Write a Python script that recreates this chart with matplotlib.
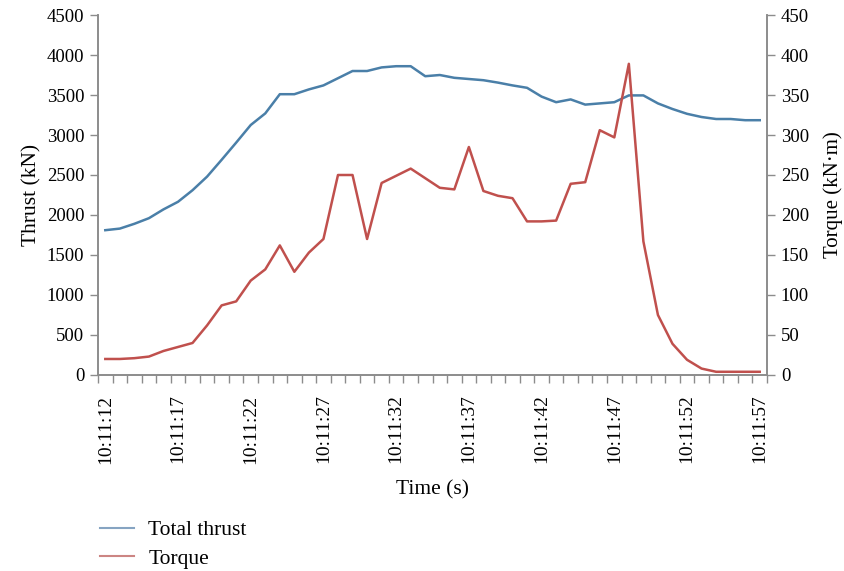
import matplotlib.pyplot as plt
from matplotlib.ticker import FixedLocator
from matplotlib.lines import Line2D

# One sample per second, 10:11:12 -> 10:11:57
times = ['10:11:%02d' % s for s in range(12, 58)]

thrust = [1810, 1830, 1890, 1960, 2070, 2165, 2310, 2480, 2690, 2905,
          3125, 3270, 3510, 3510, 3570, 3620, 3710, 3800, 3800, 3845,
          3860, 3860, 3735, 3750, 3715, 3700, 3685, 3655, 3620, 3590,
          3480, 3410, 3445, 3380, 3395, 3410, 3495, 3495, 3395, 3325,
          3265, 3225, 3200, 3200, 3185, 3185]

torque = [20, 20, 21, 23, 30, 35, 40, 62, 87, 92,
          118, 132, 162, 129, 153, 170, 250, 250, 170, 240,
          249, 258, 246, 234, 232, 285, 230, 224, 221, 192,
          192, 193, 239, 241, 306, 297, 389, 167, 75, 39,
          19, 8, 4, 4, 4, 4]

BLUE = '#4a7fa8'
RED = '#c0504d'
GREY = '#8c8c8c'
SERIF = 'Liberation Serif'

fig = plt.figure(figsize=(8.45, 5.71), dpi=100)
ax = fig.add_axes([0.116, 0.3433, 0.7917, 0.6304])
ax2 = ax.twinx()

x = list(range(len(times)))
ax.plot(x, thrust, color=BLUE, lw=1.8, zorder=3)
ax2.plot(x, torque, color=RED, lw=1.8, zorder=3)

ax.set_xlim(-0.5, len(times) - 0.5)
ax.set_ylim(0, 4500)
ax2.set_ylim(0, 450)
ax.set_yticks(range(0, 4501, 500))
ax2.set_yticks(range(0, 451, 50))

# labels every 5 s, tick marks between every category
ax.xaxis.set_major_locator(FixedLocator(x[::5]))
ax.set_xticklabels(times[::5], rotation=90, family=SERIF, fontsize=14)
ax.xaxis.set_minor_locator(FixedLocator([i - 0.5 for i in range(len(times) + 1)]))
ax.tick_params(axis='x', which='major', length=0, pad=14)
ax.tick_params(axis='x', which='minor', length=6, width=1, color=GREY, direction='out')

ax.tick_params(axis='y', length=6, width=1, color=GREY, pad=4, labelsize=13.5)
ax2.tick_params(axis='y', length=6, width=1, color=GREY, pad=4, labelsize=13.5)
for lab in ax.get_yticklabels() + ax2.get_yticklabels():
    lab.set_family(SERIF)

for a in (ax, ax2):
    a.spines['top'].set_visible(False)
    for s in ('left', 'right', 'bottom'):
        a.spines[s].set_color(GREY)
        a.spines[s].set_linewidth(1.2)

ax.set_xlabel('Time (s)', family=SERIF, fontsize=15.5, labelpad=12)
ax.set_ylabel('Thrust (kN)', family=SERIF, fontsize=15.5, labelpad=4)
ax2.set_ylabel('Torque (kN·m)', family=SERIF, fontsize=15, labelpad=10)

handles = [Line2D([], [], color='#86a4c2', lw=1.5),
           Line2D([], [], color='#cc8583', lw=1.5)]
fig.legend(handles, ['Total thrust', 'Torque'], loc='upper left',
           bbox_to_anchor=(100 / 845, 1 - 520 / 571), frameon=False,
           prop={'family': SERIF, 'size': 15.5}, handlelength=1.6,
           handletextpad=0.65, labelspacing=0.4, borderpad=0,
           borderaxespad=0)

fig.savefig('out.png', dpi=100)
